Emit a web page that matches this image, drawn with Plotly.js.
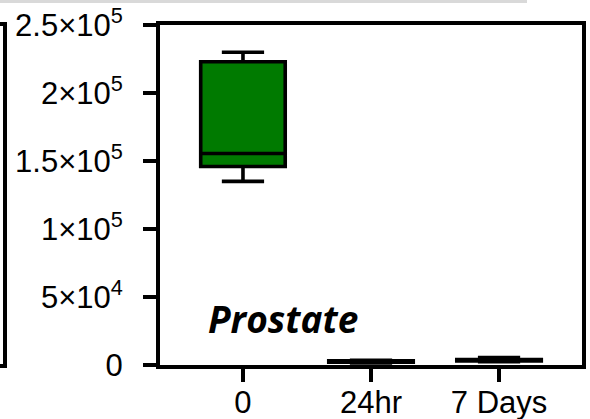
<!DOCTYPE html>
<html>
<head>
<meta charset="utf-8">
<script src="https://cdn.plot.ly/plotly-3.0.1.min.js"></script>
<style>
  html, body { margin: 0; padding: 0; background: #ffffff; }
  #chart { width: 590px; height: 419px; }
</style>
</head>
<body>
<div id="chart"></div>
<script>
// ---- data ----
var categories = ['0', '24hr', '7 Days'];
var lowerFence = [135000, 1500, 2500];
var q1Values   = [146000, 2000, 3000];
var medians    = [155500, 2500, 3500];
var q3Values   = [223000, 3000, 4000];
var upperFence = [230000, 3500, 5500];

var yTickVals = [0, 50000, 100000, 150000, 200000, 250000];
var yTickText = ['0', '5×10<sup>4</sup>', '1×10<sup>5</sup>', '1.5×10<sup>5</sup>', '2×10<sup>5</sup>', '2.5×10<sup>5</sup>'];
var panelLabel = 'Prostate';

// ---- layout geometry ----
var W = 590, H = 419;
var M = { l: 160, r: 8, t: 25, b: 54 };
var plotW = W - M.l - M.r, plotH = H - M.t - M.b;
function px(x) { return (x - M.l) / plotW; }
function py(y) { return 1 - (y - M.t) / plotH; }

var trace = {
  type: 'box',
  x: categories,
  q1: q1Values,
  median: medians,
  q3: q3Values,
  lowerfence: lowerFence,
  upperfence: upperFence,
  width: 0.66,
  whiskerwidth: 0.5,
  fillcolor: 'rgb(0,122,0)',
  line: { color: '#000000', width: 3.6 },
  boxpoints: false,
  hoverinfo: 'skip',
  showlegend: false
};

var axisFont = { family: 'Liberation Sans, Arial, sans-serif', size: 31, color: '#000000' };

var layout = {
  width: W, height: H,
  margin: M,
  paper_bgcolor: '#ffffff',
  plot_bgcolor: '#ffffff',
  showlegend: false,
  xaxis: {
    type: 'category',
    categoryorder: 'array',
    categoryarray: categories,
    range: [-0.648, 2.648],
    showline: true, linecolor: '#000000', linewidth: 4, mirror: true,
    ticks: 'outside', ticklen: 13, tickwidth: 4, tickcolor: '#000000',
    ticklabelstandoff: -6,
    showgrid: false, zeroline: false,
    tickfont: axisFont,
    fixedrange: true
  },
  yaxis: {
    range: [0, 250000],
    tickmode: 'array',
    tickvals: yTickVals,
    ticktext: yTickText,
    showline: true, linecolor: '#000000', linewidth: 4, mirror: true,
    ticks: 'outside', ticklen: 13, tickwidth: 4, tickcolor: '#000000',
    ticklabelstandoff: 14,
    showgrid: false, zeroline: false,
    tickfont: axisFont,
    fixedrange: true
  },
  shapes: [
    { type: 'rect', xref: 'paper', yref: 'paper',
      x0: px(0), x1: px(527), y0: py(3), y1: py(0),
      fillcolor: '#d9d9d9', line: { width: 0 }, layer: 'above' },
    { type: 'path', xref: 'paper', yref: 'paper',
      path: 'M ' + px(0) + ' ' + py(24) + ' L ' + px(5) + ' ' + py(24) +
            ' L ' + px(5) + ' ' + py(366) + ' L ' + px(0) + ' ' + py(366),
      line: { color: '#000000', width: 4 }, layer: 'above' }
  ],
  annotations: [
    { xref: 'paper', yref: 'paper', x: px(283), y: py(318),
      xanchor: 'center', yanchor: 'middle', showarrow: false,
      text: '<b><i>' + panelLabel + '</i></b>',
      font: { family: 'Open Sans, Noto Sans, sans-serif', size: 37, color: '#000000' } }
  ]
};

Plotly.newPlot('chart', [trace], layout, { staticPlot: true, displayModeBar: false });
</script>
</body>
</html>
